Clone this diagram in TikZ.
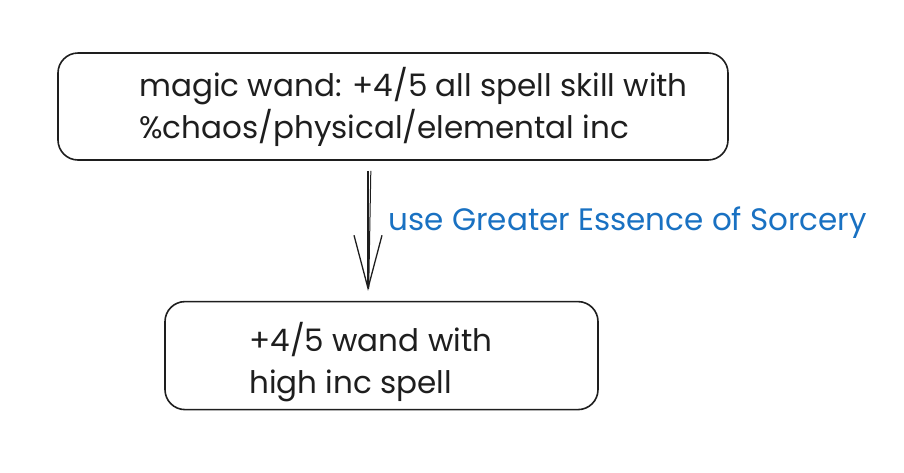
\documentclass[tikz,border=0pt]{standalone}
\usepackage{fontspec}
\setmainfont{Poppins}
\usetikzlibrary{positioning,arrows.meta}
\definecolor{inkblack}{HTML}{1E1E1E}
\definecolor{inkblue}{HTML}{1971C2}
\tikzstyle{sketch}=[rectangle, draw=inkblack, line width=1.6pt, rounded corners=20pt, fill=white]
\tikzstyle{boxtext}=[align=left, anchor=west, inner sep=0pt, text=inkblack,
        font=\fontsize{31}{42}\selectfont]
\tikzstyle{myarrow}=[-{Straight Barb[length=53pt, width=28pt]}, line width=1.3pt, draw=inkblack]
\tikzstyle{line}=[-, line width=1pt, draw=inkblack]
\tikzstyle{arrowlabel}=[text=inkblue, inner sep=0pt, anchor=west, font=\fontsize{31}{34}\selectfont]

\begin{document}
\begin{tikzpicture}[x=1pt, y=-1pt, node distance=140pt]
    \useasboundingbox (0,0) rectangle (904,472);

    \node (Wand) [sketch, minimum width=670pt, minimum height=107pt] at (393,106.5) {};
    \node (WandText) [boxtext, right=82pt of Wand.west]
        {magic wand: +4/5 all spell skill with\\
         \%chaos/physical/elemental inc};

    \node (Result) [sketch, minimum width=433pt, minimum height=108pt, below=of Wand, xshift=-11.5pt] {};
    \node (ResultText) [boxtext, right=85pt of Result.west, yshift=-6pt]
        {+4/5 wand with\\
         high inc spell};

    \draw[myarrow, shorten <=10pt, shorten >=10pt] ([xshift=-25pt]Wand.south) -- ([xshift=-13.5pt]Result.north)
        node (Essence) [arrowlabel, midway, xshift=20pt, yshift=8pt] {use Greater Essence of Sorcery};
    \draw[line, shorten <=10pt, shorten >=12pt] ([xshift=-22pt]Wand.south) -- ([xshift=-13pt]Result.north);
\end{tikzpicture}
\end{document}
